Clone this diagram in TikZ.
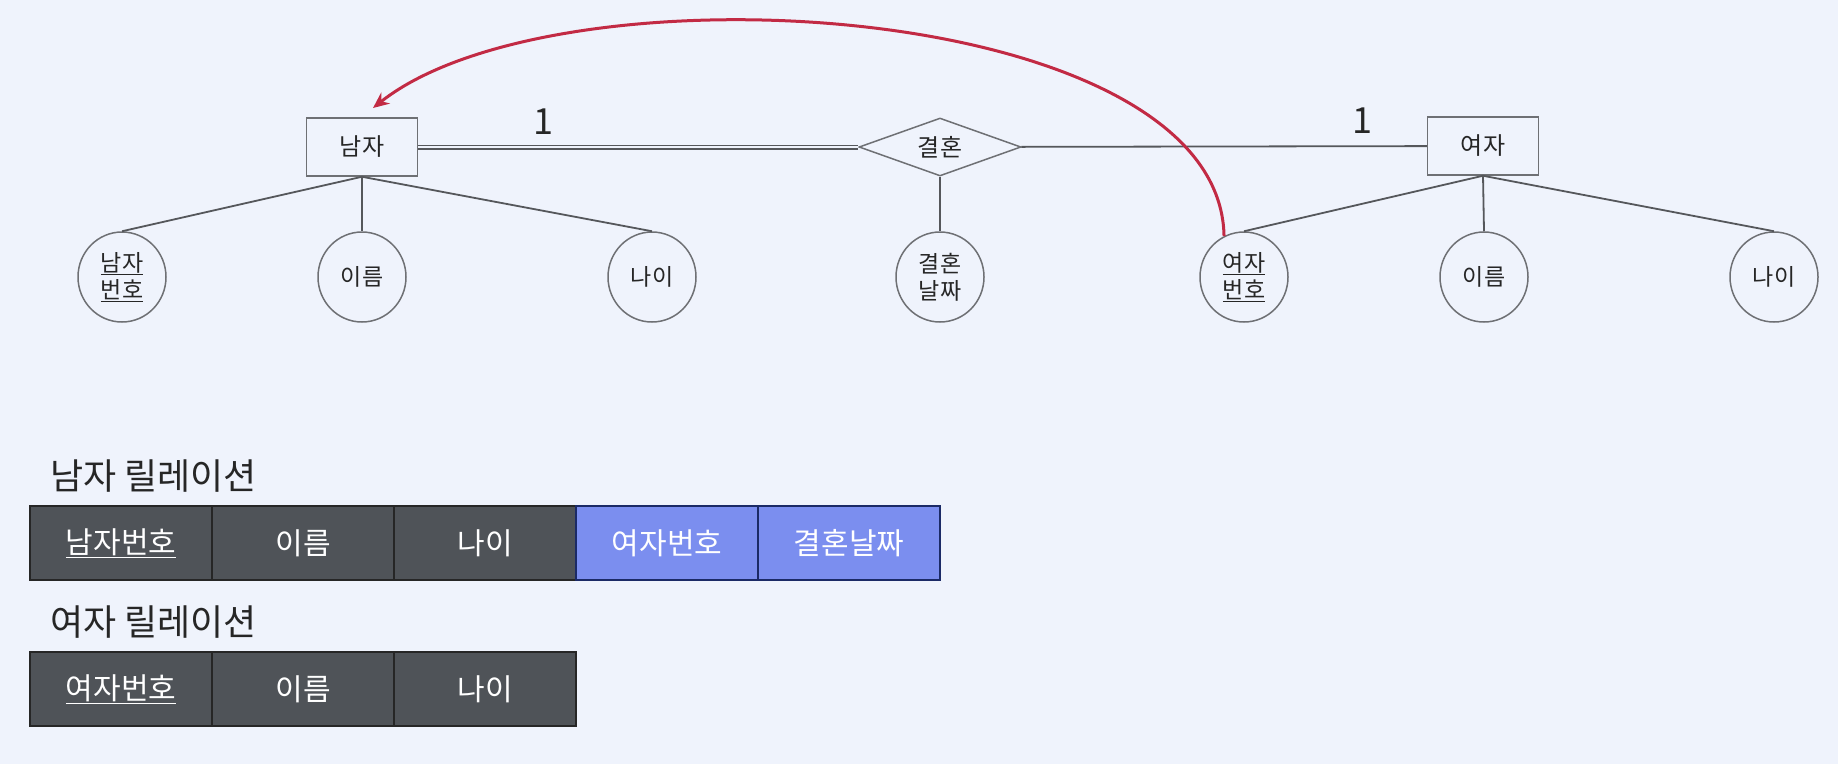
\documentclass[tikz,border=0pt]{standalone}
\usepackage{fontspec}
\setmainfont{Noto Sans CJK KR}
\usepackage{tikz}
\usetikzlibrary{arrows.meta,shapes}
\definecolor{bgcol}{HTML}{EFF3FC}
\definecolor{linecol}{HTML}{55575B}
\definecolor{cellcol}{HTML}{4F5358}
\definecolor{fkcol}{HTML}{7B8EEF}
\definecolor{fkline}{HTML}{1B2A66}
\definecolor{arccol}{HTML}{C22A44}
\tikzstyle{entity}=[rectangle,draw=linecol!85,line width=1.5pt,minimum width=111pt,minimum height=58pt,text=black!85,font=\fontsize{24}{27}\selectfont]
\tikzstyle{relation}=[diamond,aspect=3,draw=linecol!85,line width=1.5pt,minimum width=162pt,minimum height=58pt,inner sep=0pt,text=black!85,font=\fontsize{24}{27}\selectfont]
\tikzstyle{attr}=[ellipse,draw=linecol!85,line width=1.5pt,minimum width=88pt,minimum height=90pt,inner sep=0pt,align=center,text=black!85,font=\fontsize{23}{27}\selectfont]
\tikzstyle{link}=[draw=linecol,line width=1.8pt]
\tikzstyle{card}=[text=black!85,font=\fontsize{36}{36}\selectfont]
\tikzstyle{arc}=[draw=arccol,line width=3pt,-{Stealth[length=16pt,width=14pt]}]
\tikzstyle{cell}=[rectangle,draw=black!85,line width=2pt,fill=cellcol,text=white,minimum width=182pt,minimum height=74pt,font=\fontsize{30}{30}\selectfont]
\tikzstyle{fk cell}=[cell,fill=fkcol,draw=fkline]
\tikzstyle{title}=[anchor=west,inner sep=0pt,text=black!85,font=\fontsize{36}{36}\selectfont]

\begin{document}
\begin{tikzpicture}[x=1pt,y=-1pt]
    \useasboundingbox (0,0) rectangle (1838,764);
    \fill[bgcol] (0,0) rectangle (1838,764);
    % ER diagram
    \node[entity] (man) at (362,147) {남자};
    \node[relation] (marry) at (940,147) {결혼};
    \node[entity] (woman) at (1483,146) {여자};
    \foreach \pos/\name/\txt in {{(122,277)/mno/{\underline{남자}\\\underline{번호}}}, {(362,277)/mname/이름}, {(652,277)/mage/나이},
        {(940,277)/mdate/{결혼\\날짜}}, {(1244,277)/wno/{\underline{여자}\\\underline{번호}}}, {(1484,277)/wname/이름}, {(1774,277)/wage/나이}}
        \node[attr] (\name) at \pos {\txt};
    \foreach \source/\dest in {man/mno, man/mname, man/mage, marry/mdate, woman/wno, woman/wname, woman/wage}
        \path[link] (\source.south) -- (\dest.north);
    \path[link,double=bgcol,double distance=2.6pt,line width=1.2pt] (man) -- (marry);
    \path[link] (marry) -- (woman);
    \node[card] (one1) at (543,122) {1};
    \node[card] (one2) at (1362,121) {1};
    \coordinate (tip) at (373,108);
    \draw[arc] (wno.116) .. controls (1220,0) and (560,-40) .. (tip);
    % relations
    \node[title] (mtitle) at (50,476) {남자 릴레이션};
    \foreach \x/\name/\txt in {121/mkey/{\underline{남자번호}}, 303/mname2/이름, 485/mage2/나이}
        \node[cell] (\name) at (\x,543) {\txt};
    \node[fk cell] (mfk) at (667,543) {여자번호};
    \node[fk cell] (mdate2) at (849,543) {결혼날짜};
    \node[title] (wtitle) at (50,622) {여자 릴레이션};
    \foreach \x/\name/\txt in {121/wkey/{\underline{여자번호}}, 303/wname2/이름, 485/wage2/나이}
        \node[cell] (\name) at (\x,689) {\txt};
\end{tikzpicture}
\end{document}
